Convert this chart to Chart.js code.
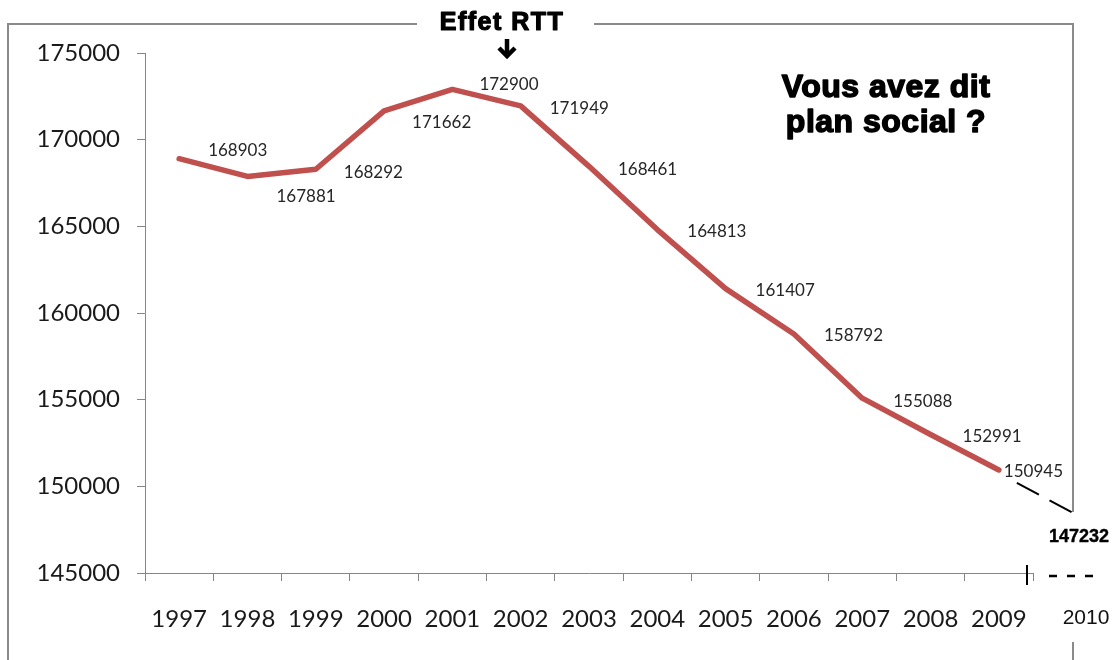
<!DOCTYPE html>
<html>
<head>
<meta charset="utf-8">
<script src="https://cdn.jsdelivr.net/npm/chart.js@4.4.1/dist/chart.umd.min.js"></script>
<style>
    html, body { margin: 0; padding: 0; background: #fff; }
    #wrap { width: 1116px; height: 660px; position: relative; }
</style>
</head>
<body>
<div id="wrap"><canvas id="staffChart" width="1116" height="660"></canvas></div>
<script>
// Effectifs par année
const years = ['1997', '1998', '1999', '2000', '2001', '2002', '2003', '2004', '2005', '2006', '2007', '2008', '2009'];
const staff = [168903, 167881, 168292, 171662, 172900, 171949, 168461, 164813, 161407, 158792, 155088, 152991, 150945];

// Projection hors du graphique
const nextYear = '2010';
const nextStaff = 147232;

// Axe vertical
const yMin = 145000;
const yMax = 175000;
const yStep = 5000;

// Petits décalages des étiquettes (px), comme dans l'original
const labelDx = [29, 29, 28, 28, 27, 29, 29, 30, 30, 30, 31, 32, 5];
const labelDy = [-8, 20, 3, 12, -5, 3, 3, 2, 2, 2, 3, 2, 2];

const GRAY = '#868686';
const frameColor = '#8a8a8a';

// texte gras épaissi (l'original est plus noir qu'un simple gras)
function heavyText(ctx, text, x, y) {
    ctx.fillText(text, x, y);
    ctx.strokeText(text, x, y);
}

const valueLabels = {
    id: 'valueLabels',
    afterDatasetsDraw(chart) {
        const ctx = chart.ctx;
        const meta = chart.getDatasetMeta(0);
        ctx.save();
        ctx.font = '17px Lato';
        ctx.fillStyle = '#262626';
        ctx.textAlign = 'left';
        ctx.textBaseline = 'middle';
        meta.data.forEach((pt, i) => {
            ctx.fillText(String(staff[i]), pt.x + labelDx[i], pt.y + labelDy[i]);
        });
        ctx.restore();
    }
};

const annotations = {
    id: 'annotations',
    afterDraw(chart) {
        const ctx = chart.ctx;
        const xs = chart.scales.x;
        const ys = chart.scales.y;
        const area = chart.chartArea;
        const frameRight = 1073;
        const frameTop = 24;

        ctx.save();

        // cadre
        ctx.strokeStyle = frameColor;
        ctx.lineWidth = 2;
        ctx.beginPath();
        ctx.moveTo(8, 660);
        ctx.lineTo(8, frameTop);
        ctx.lineTo(417, frameTop);
        ctx.moveTo(594, frameTop);
        ctx.lineTo(frameRight, frameTop);
        ctx.lineTo(frameRight, 512);
        ctx.moveTo(frameRight, 642);
        ctx.lineTo(frameRight, 660);
        ctx.stroke();

        // Effet RTT
        ctx.fillStyle = '#000';
        ctx.strokeStyle = '#000';
        ctx.lineWidth = 1.2;
        ctx.lineJoin = 'round';
        ctx.font = 'bold 25px "Liberation Sans"';
        ctx.letterSpacing = '1.5px';
        ctx.textAlign = 'center';
        ctx.textBaseline = 'alphabetic';
        heavyText(ctx, 'Effet RTT', 502, 30);

        // flèche
        ctx.lineWidth = 4.5;
        ctx.lineCap = 'butt';
        ctx.beginPath();
        ctx.moveTo(507, 39);
        ctx.lineTo(507, 56);
        ctx.stroke();
        ctx.lineJoin = 'miter';
        ctx.beginPath();
        ctx.moveTo(499, 48);
        ctx.lineTo(507, 56);
        ctx.lineTo(515, 48);
        ctx.stroke();

        // Vous avez dit plan social ?
        ctx.lineWidth = 1.5;
        ctx.lineJoin = 'round';
        ctx.font = 'bold 32px "Liberation Sans"';
        ctx.letterSpacing = '0.5px';
        heavyText(ctx, 'Vous avez dit', 886, 97);
        heavyText(ctx, 'plan social ?', 886, 132);
        ctx.letterSpacing = '0px';

        // prolongement 2010
        const last = chart.getDatasetMeta(0).data[staff.length - 1];
        const yNext = ys.getPixelForValue(nextStaff);
        ctx.lineWidth = 2;
        ctx.setLineDash([25, 12]);
        ctx.beginPath();
        ctx.moveTo(last.x + 18, last.y + 13);
        ctx.lineTo(frameRight - 1, yNext - 22);
        ctx.stroke();
        ctx.setLineDash([]);

        ctx.font = 'bold 18px "Liberation Sans"';
        ctx.textBaseline = 'middle';
        ctx.lineWidth = 0.4;
        heavyText(ctx, String(nextStaff), frameRight + 6, yNext + 3);

        // fin d'axe et pointillés
        ctx.lineWidth = 2;
        ctx.beginPath();
        ctx.moveTo(xs.right - 6, area.bottom - 8);
        ctx.lineTo(xs.right - 6, area.bottom + 12);
        ctx.stroke();

        ctx.lineWidth = 2.5;
        ctx.setLineDash([8, 10]);
        ctx.beginPath();
        ctx.moveTo(xs.right + 16, area.bottom + 3);
        ctx.lineTo(xs.right + 62, area.bottom + 3);
        ctx.stroke();
        ctx.setLineDash([]);

        ctx.font = '21px "Liberation Sans"';
        ctx.fillStyle = '#111';
        ctx.fillText(nextYear, frameRight + 13, area.bottom + 45);

        ctx.restore();
    }
};

const ctx = document.getElementById('staffChart').getContext('2d');

new Chart(ctx, {
    type: 'line',
    data: {
        labels: years,
        datasets: [{
            label: 'Effectifs',
            data: staff,
            borderColor: '#C0504D',
            borderWidth: 5.5,
            borderJoinStyle: 'round',
            borderCapStyle: 'round',
            pointRadius: 0,
            tension: 0,
            fill: false
        }]
    },
    options: {
        responsive: false,
        animation: false,
        devicePixelRatio: 1,
        layout: { padding: { left: 0, right: 83, top: 53, bottom: 0 } },
        plugins: {
            legend: { display: false },
            tooltip: { enabled: false }
        },
        scales: {
            x: {
                offset: true,
                grid: { offset: true, drawOnChartArea: false, drawTicks: true, tickLength: 8, color: GRAY },
                border: { color: GRAY, width: 1 },
                ticks: {
                    font: { family: 'Lato', size: 24 },
                    color: '#1a1a1a',
                    padding: 24,
                    maxRotation: 0,
                    autoSkip: false
                },
                afterFit: (scale) => { scale.height = 87; }
            },
            y: {
                min: yMin,
                max: yMax,
                grid: { drawOnChartArea: false, drawTicks: true, tickLength: 8, color: GRAY },
                border: { color: GRAY, width: 1 },
                ticks: {
                    stepSize: yStep,
                    font: { family: 'Lato', size: 24 },
                    color: '#1a1a1a',
                    padding: 17,
                    callback: (value) => String(value)
                },
                afterFit: (scale) => { scale.width = 145; }
            }
        }
    },
    plugins: [valueLabels, annotations]
});
</script>
</body>
</html>
